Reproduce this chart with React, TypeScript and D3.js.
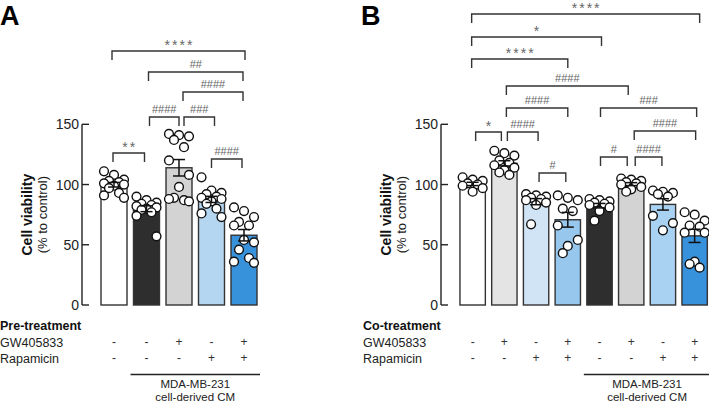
import React from 'react';
import * as d3 from 'd3';

// Panel A – pre-treatment
const groupsA = ['A1', 'A2', 'A3', 'A4', 'A5'];
const colorsA = ['#ffffff', '#2e2e2e', '#d3d3d3', '#b5d6f1', '#3791db'];
const gwA = ['-', '-', '+', '-', '+'];
const rapaA = ['-', '-', '-', '+', '+'];
const pointsA = [
  [111, 108, 104, 103, 102, 101, 100, 99, 97, 93, 91, 89],
  [90, 87, 85, 84, 83, 82, 81, 80, 79, 77, 74, 57],
  [142, 141, 140, 137, 131, 120, 108, 98, 89, 87, 88, 86],
  [106, 95, 93, 92, 90, 89, 88, 86, 84, 80, 76, 73],
  [81, 78, 73, 69, 66, 66, 52, 54, 46, 39, 36, 35],
];
// [from, to, label, level (px), dx1, dx2]
const bracketsA: [number, number, string, number, number, number][] = [
  [0, 4, '****', 51, -2, 1],
  [1, 4, '##', 72, 2, -1],
  [2, 4, '####', 92, 4, -1],
  [1, 2, '####', 117, 3, 0],
  [2, 3, '###', 117, 5, 3],
  [0, 1, '**', 153, -1, -2],
  [3, 4, '####', 159, 0, -2],
];

// Panel B – co-treatment
const groupsB = ['B1', 'B2', 'B3', 'B4', 'B5', 'B6', 'B7', 'B8'];
const colorsB = ['#ffffff', '#e4e4e4', '#d0e4f6', '#97c7ed', '#2e2e2e', '#d3d3d3', '#a9d1f1', '#3791db'];
const gwB = ['-', '+', '-', '+', '-', '+', '-', '+'];
const rapaB = ['-', '-', '+', '+', '-', '-', '+', '+'];
const pointsB = [
  [106, 104, 103, 101, 100, 99, 97, 94],
  [128, 126, 124, 120, 118, 116, 114, 112, 110, 108],
  [92, 91, 90, 89, 88, 87, 85, 83, 67],
  [91, 89, 87, 80, 78, 66, 54, 49, 43],
  [88, 87, 86, 85, 84, 83, 81, 78, 70],
  [105, 104, 103, 102, 101, 100, 98, 96, 94],
  [95, 94, 93, 92, 90, 74, 68, 62],
  [77, 75, 70, 66, 65, 60, 60, 36, 34, 31],
];
const bracketsB: [number, number, string, number, number, number][] = [
  [0, 7, '****', 14, -1, 5],
  [0, 4, '*', 37, -1, 2],
  [0, 3, '****', 59, -1, 0],
  [1, 5, '####', 86, 2, -3],
  [1, 3, '####', 108, 2, 0],
  [4, 7, '###', 108, 1, 2],
  [0, 1, '*', 132, 3, -3],
  [1, 2, '####', 132, 3, 2],
  [5, 7, '####', 131, 3, 1],
  [4, 5, '#', 157, 1, -4],
  [5, 6, '####', 157, 4, -1],
  [2, 3, '#', 173, 3, -2],
];

const yTicks = [0, 50, 100, 150];
const y = d3.scaleLinear().domain([0, 150]).range([305, 124.3]);
const font = 'Liberation Sans, Arial, sans-serif';

const mean = (a: number[]) => d3.mean(a) as number;
const sem = (a: number[]) => (d3.deviation(a) as number) / Math.sqrt(a.length);

interface PanelProps {
  letter: string;
  letterX: number;
  axisX: number;
  titleX: number;
  range: [number, number];
  groups: string[];
  colors: string[];
  points: number[][];
  brackets: [number, number, string, number, number, number][];
  gw: string[];
  rapa: string[];
  treatLabel: string;
  labelX: number;
  cmFrom: number;
}

const Panel: React.FC<PanelProps> = (p) => {
  const x = d3.scaleBand().domain(p.groups).range(p.range).paddingInner(0.2).paddingOuter(0.1);
  const bw = x.bandwidth();
  const cx = (i: number) => (x(p.groups[i]) as number) + bw / 2;
  const jitter = [-10, 0, 10, -5, 5, -10, 10, 0, -5, 5, -10, 10];
  const cmX1 = (x(p.groups[p.cmFrom]) as number) - 3;
  const cmX2 = (x(p.groups[p.groups.length - 1]) as number) + bw + 3;
  return (
    <g>
      <text x={p.letterX} y={25} fontSize={27} fontWeight="bold" fill="#000">{p.letter}</text>
      {/* y axis */}
      <line x1={p.axisX} x2={p.axisX} y1={y(150)} y2={y(0)} stroke="#222" strokeWidth={1.4} />
      {yTicks.map((t) => (
        <g key={t}>
          <line x1={p.axisX} x2={p.axisX + 7} y1={y(t)} y2={y(t)} stroke="#222" strokeWidth={1.4} />
          <text x={p.axisX - 3} y={y(t) + 5} fontSize={14} textAnchor="end" fill="#222">{t}</text>
        </g>
      ))}
      <g transform={`translate(${p.titleX},${(y(0) + y(150)) / 2}) rotate(-90)`}>
        <text x={0} y={0} fontSize={14} fontWeight="bold" textAnchor="middle" fill="#111">Cell viability</text>
        <text x={0} y={15} fontSize={13} textAnchor="middle" fill="#222">(% to control)</text>
      </g>
      {/* bars */}
      {p.points.map((pts, i) => (
        <rect key={i} x={x(p.groups[i])} width={bw} y={y(mean(pts))} height={y(0) - y(mean(pts))}
          fill={p.colors[i]} stroke="#333" strokeWidth={1.4} />
      ))}
      {/* points */}
      {p.points.map((pts, i) =>
        pts.map((v, k) => (
          <circle key={`${i}-${k}`} cx={cx(i) + jitter[k % jitter.length]} cy={y(v)} r={4.4}
            fill="#fff" stroke="#111" strokeWidth={1.4} />
        ))
      )}
      {/* error bars */}
      {p.points.map((pts, i) => {
        const m = mean(pts), s = sem(pts);
        return (
          <g key={`e${i}`} stroke="#111" strokeWidth={1.5}>
            <line x1={cx(i)} x2={cx(i)} y1={y(m - s)} y2={y(m + s)} />
            <line x1={cx(i) - 6} x2={cx(i) + 6} y1={y(m + s)} y2={y(m + s)} />
            <line x1={cx(i) - 6} x2={cx(i) + 6} y1={y(m - s)} y2={y(m - s)} />
          </g>
        );
      })}
      {/* significance brackets */}
      {p.brackets.map(([a, b, lab, lev, d1, d2], i) => {
        const x1 = cx(a) + d1, x2 = cx(b) + d2;
        const star = lab.startsWith('*');
        return (
          <g key={`b${i}`}>
            <path d={`M${x1},${lev + 9}V${lev}H${x2}V${lev + 9}`} fill="none" stroke="#333" strokeWidth={1.4} />
            <text x={(x1 + x2) / 2 + (star ? 1 : 0)} y={lev - (star ? 1 : 4)} fontSize={star ? 14 : 11}
              letterSpacing={star ? 2 : 0} textAnchor="middle" fill="#666">{lab}</text>
          </g>
        );
      })}
      {/* treatment table */}
      <text x={p.labelX} y={330} fontSize={12.5} fontWeight="bold" fill="#111">{p.treatLabel}</text>
      <text x={p.labelX} y={347} fontSize={12.5} fill="#222">GW405833</text>
      <text x={p.labelX} y={363} fontSize={12.5} fill="#222">Rapamicin</text>
      {p.gw.map((s, i) => (
        <text key={`g${i}`} x={cx(i)} y={346} fontSize={12} textAnchor="middle" fill="#333">{s}</text>
      ))}
      {p.rapa.map((s, i) => (
        <text key={`r${i}`} x={cx(i)} y={362} fontSize={12} textAnchor="middle" fill="#333">{s}</text>
      ))}
      <line x1={cmX1} x2={cmX2} y1={374.5} y2={374.5} stroke="#222" strokeWidth={1.5} />
      <text x={(cmX1 + cmX2) / 2} y={388} fontSize={11.5} textAnchor="middle" fill="#222">MDA-MB-231</text>
      <text x={(cmX1 + cmX2) / 2} y={400.5} fontSize={11.5} textAnchor="middle" fill="#222">cell-derived CM</text>
    </g>
  );
};

export default function App() {
  return (
    <svg width={709} height={404} style={{ position: 'absolute', left: 0, top: 0, fontFamily: font, background: '#fff' }}>
      <rect width={709} height={404} fill="#fff" />
      <Panel letter="A" letterX={0} axisX={82} titleX={32} range={[97.75, 260.25]} groups={groupsA}
        colors={colorsA} points={pointsA} brackets={bracketsA} gw={gwA} rapa={rapaA}
        treatLabel="Pre-treatment" labelX={0} cmFrom={1} />
      <Panel letter="B" letterX={361} axisX={441} titleX={391} range={[456.8, 710.5]} groups={groupsB}
        colors={colorsB} points={pointsB} brackets={bracketsB} gw={gwB} rapa={rapaB}
        treatLabel="Co-treatment" labelX={363} cmFrom={4} />
    </svg>
  );
}
